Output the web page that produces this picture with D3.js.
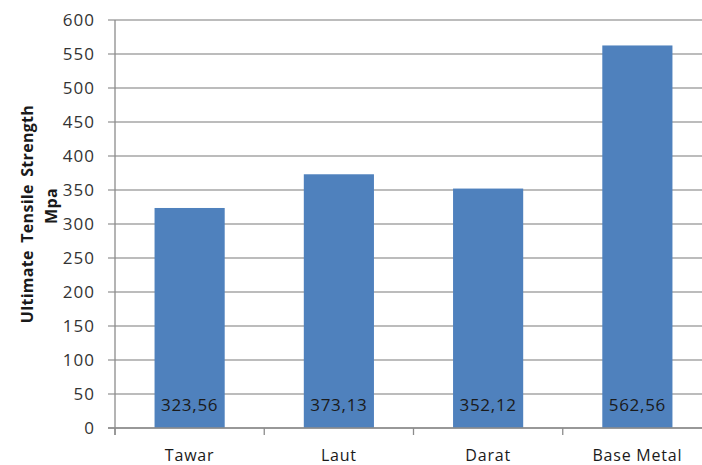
<!DOCTYPE html>
<html>
<head>
<meta charset="utf-8">
<script src="https://cdn.jsdelivr.net/npm/d3@7"></script>
<style>
  body { margin: 0; background: #fff; }
  text { font-family: "Open Sans", sans-serif; }
</style>
</head>
<body>
<svg id="chart" width="702" height="465"></svg>
<script>
const categories = ["Tawar", "Laut", "Darat", "Base Metal"];
const uts = [323.56, 373.13, 352.12, 562.56];
const yTicks = [0, 50, 100, 150, 200, 250, 300, 350, 400, 450, 500, 550, 600];

const margin = { top: 20, left: 115 };
const plotW = 597;   // runs past the right edge, like the source image
const plotH = 408;

const svg = d3.select("#chart");
const g = svg.append("g").attr("transform", `translate(${margin.left},${margin.top})`);

const x = d3.scaleBand().domain(categories).range([0, plotW]).paddingInner(0.53).paddingOuter(0.265);
const y = d3.scaleLinear().domain([0, 600]).range([plotH, 0]);

// gridlines + y ticks
g.append("g")
    .selectAll("line")
    .data(yTicks)
    .join("line")
    .attr("x1", -7)
    .attr("x2", plotW)
    .attr("y1", d => y(d))
    .attr("y2", d => y(d))
    .attr("stroke", "#a6a6a6")
    .attr("stroke-width", 1.3);

g.append("g")
    .selectAll("text")
    .data(yTicks)
    .join("text")
    .attr("x", -20)
    .attr("y", d => y(d))
    .attr("dy", "0.36em")
    .attr("text-anchor", "end")
    .attr("font-size", 17)
    .attr("letter-spacing", 1)
    .attr("fill", "#333")
    .text(d => d);

// bars
g.append("g")
    .selectAll("rect")
    .data(uts)
    .join("rect")
    .attr("x", (d, i) => x(categories[i]))
    .attr("y", d => y(d))
    .attr("width", x.bandwidth())
    .attr("height", d => plotH - y(d))
    .attr("fill", "#4f81bd");

// value labels
g.append("g")
    .selectAll("text")
    .data(uts)
    .join("text")
    .attr("x", (d, i) => x(categories[i]) + x.bandwidth() / 2)
    .attr("y", plotH - 23)
    .attr("dy", "0.36em")
    .attr("text-anchor", "middle")
    .attr("font-size", 17)
    .attr("letter-spacing", 0.7)
    .attr("fill", "#1a1a1a")
    .text(d => d.toFixed(2).replace(".", ","));

// axes lines
g.append("line")
    .attr("x1", 0).attr("x2", 0)
    .attr("y1", 0).attr("y2", plotH + 7)
    .attr("stroke", "#8c8c8c").attr("stroke-width", 1.3);
g.append("line")
    .attr("x1", -7).attr("x2", plotW)
    .attr("y1", plotH).attr("y2", plotH)
    .attr("stroke", "#8c8c8c").attr("stroke-width", 1.3);

// category separators
const step = plotW / categories.length;
g.append("g")
    .selectAll("line")
    .data(d3.range(categories.length + 1))
    .join("line")
    .attr("x1", d => d * step)
    .attr("x2", d => d * step)
    .attr("y1", plotH)
    .attr("y2", plotH + 7)
    .attr("stroke", "#8c8c8c")
    .attr("stroke-width", 1.3);

g.append("g")
    .selectAll("text")
    .data(categories)
    .join("text")
    .attr("x", d => x(d) + x.bandwidth() / 2)
    .attr("y", plotH + 33)
    .attr("text-anchor", "middle")
    .attr("font-size", 16)
    .attr("letter-spacing", 0.8)
    .attr("fill", "#1a1a1a")
    .text(d => d);

// y title, two lines
svg.append("text")
    .attr("transform", "translate(33,214) rotate(-90)")
    .attr("text-anchor", "middle")
    .attr("font-size", 16)
    .attr("font-weight", "bold")
    .attr("letter-spacing", 0.3)
    .attr("word-spacing", 3)
    .attr("fill", "#1a1a1a")
    .text("Ultimate Tensile Strength");
svg.append("text")
    .attr("transform", "translate(57,206) rotate(-90)")
    .attr("text-anchor", "middle")
    .attr("font-size", 16)
    .attr("font-weight", "bold")
    .attr("letter-spacing", 0.3)
    .attr("fill", "#1a1a1a")
    .text("Mpa");
</script>
</body>
</html>
